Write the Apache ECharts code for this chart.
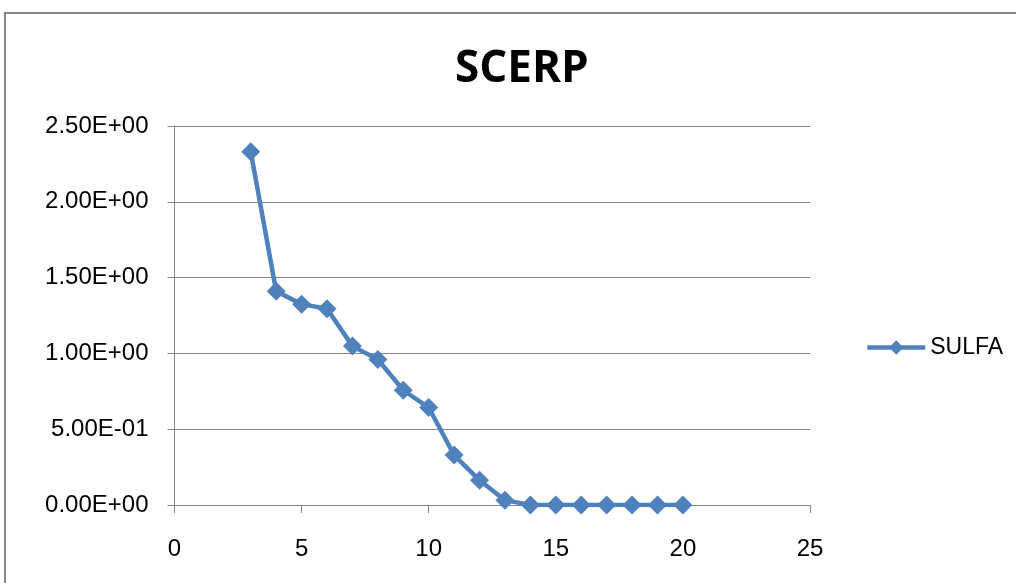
<!DOCTYPE html>
<html>
<head>
<meta charset="utf-8">
<title>SCERP</title>
<script src="https://cdn.jsdelivr.net/npm/echarts@6/dist/echarts.min.js"></script>
<style>
  html, body { margin: 0; padding: 0; background: #ffffff; }
  #chart { width: 1016px; height: 583px; }
</style>
</head>
<body>
<div id="chart"></div>
<script>
// SULFA series: x positions and measured values
const xValues = [3, 4, 5, 6, 7, 8, 9, 10, 11, 12, 13, 14, 15, 16, 17, 18, 19, 20];
const sulfaValues = [2.33, 1.41, 1.325, 1.295, 1.048, 0.96, 0.757, 0.643, 0.329, 0.163, 0.032, 0, 0, 0, 0, 0, 0, 0];

const titleText = 'SCERP';
const seriesName = 'SULFA';

// axis ranges and tick steps
const xMin = 0, xMax = 25, xStep = 5;
const yMin = 0, yMax = 2.5, yStep = 0.5;

// Excel-style scientific notation: 2.50E+00, 5.00E-01
function sci(v) {
  if (v === 0) return '0.00E+00';
  const [m, e] = v.toExponential(2).split('e');
  const n = parseInt(e, 10);
  const sign = n < 0 ? '-' : '+';
  return m + 'E' + sign + String(Math.abs(n)).padStart(2, '0');
}

const gray = '#868686';
const blue = '#4F81BD';
const font = 'Liberation Sans, Arial, sans-serif';

const chart = echarts.init(document.getElementById('chart'), null, { renderer: 'canvas' });

chart.setOption({
  backgroundColor: '#ffffff',
  animation: false,
  title: {
    text: titleText,
    left: 450,
    top: 42,
    textStyle: { fontFamily: 'Open Sans, sans-serif', fontWeight: 'bold', fontSize: 44, color: '#000000' }
  },
  graphic: [{
    type: 'rect',
    shape: { x: 5, y: 13, width: 1040, height: 620 },
    style: { fill: 'none', stroke: gray, lineWidth: 2 },
    silent: true,
    z: -1
  }],
  legend: {
    orient: 'vertical',
    left: 865,
    top: 336,
    padding: 0,
    itemWidth: 58,
    itemHeight: 18,
    itemGap: 8,
    lineStyle: { width: 4.5 },
    textStyle: { fontFamily: font, fontSize: 23, color: '#000000' },
    data: [seriesName]
  },
  grid: {
    left: 174.5,
    right: 206,
    top: 126,
    bottom: 78,
    containLabel: false
  },
  xAxis: {
    type: 'value',
    min: xMin,
    max: xMax,
    interval: xStep,
    axisLine: { show: true, onZero: false, lineStyle: { color: gray, width: 1 } },
    axisTick: { show: true, length: 8, lineStyle: { color: gray } },
    splitLine: { show: false },
    axisLabel: { margin: 32, fontFamily: font, fontSize: 24, color: '#000000' }
  },
  yAxis: {
    type: 'value',
    min: yMin,
    max: yMax,
    interval: yStep,
    axisLine: { show: true, lineStyle: { color: gray, width: 1 } },
    axisTick: { show: true, length: 7, lineStyle: { color: gray } },
    splitLine: { show: true, lineStyle: { color: gray, width: 1 } },
    axisLabel: { margin: 26, fontFamily: font, fontSize: 24, color: '#000000', formatter: sci }
  },
  series: [{
    name: seriesName,
    type: 'line',
    data: xValues.map((x, i) => [x, sulfaValues[i]]),
    symbol: 'diamond',
    symbolSize: 19,
    showAllSymbol: true,
    lineStyle: { color: blue, width: 4.5 },
    itemStyle: { color: blue, borderWidth: 0 },
    z: 3
  }]
});
</script>
</body>
</html>
